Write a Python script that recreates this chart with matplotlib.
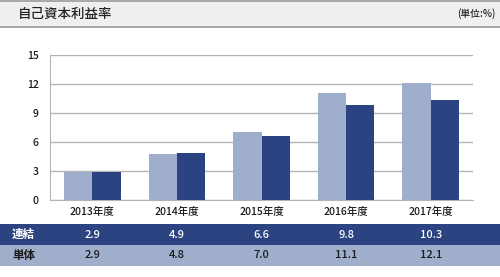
import matplotlib
matplotlib.use("Agg")
import matplotlib.pyplot as plt
from matplotlib import transforms
from matplotlib.patches import Rectangle
from matplotlib.lines import Line2D

plt.rcParams['font.family'] = ['Noto Sans CJK JP', 'DejaVu Sans']
plt.rcParams['font.weight'] = 'medium'

title = "自己資本利益率"
unit = "(単位:%)"
categories = ["2013年度", "2014年度", "2015年度", "2016年度", "2017年度"]
consolidated = [2.9, 4.9, 6.6, 9.8, 10.3]   # 連結
standalone = [2.9, 4.8, 7.0, 11.1, 12.1]    # 単体
row_labels = ["連結", "単体"]
yticks = [0, 3, 6, 9, 12, 15]

light = "#9eaecb"
dark = "#2b4380"

fig = plt.figure(figsize=(5.0, 2.77), dpi=100)
W, H = 500, 277

def fy(y):
    return 1 - y / H

# header band
fig.patches.append(Rectangle((0, fy(27)), 1, fy(1) - fy(27), transform=fig.transFigure,
                             facecolor="#efefef", edgecolor="none", zorder=-2))
fig.lines.append(Line2D([0, 1], [fy(1), fy(1)], transform=fig.transFigure, color="#9a9a9a", lw=1.2))
fig.lines.append(Line2D([0, 1], [fy(27), fy(27)], transform=fig.transFigure, color="#9a9a9a", lw=1.2))
fig.text(18 / W, fy(14), title, fontsize=9.7, va="center", ha="left", color="#222222")
fig.text(496 / W, fy(14), unit, fontsize=7, va="center", ha="right", color="#222222")

ax = fig.add_axes([50 / W, fy(200), (473 - 50) / W, fy(55) - fy(200)])
x = list(range(len(categories)))
bw = 0.335
ax.bar([i - bw / 2 for i in x], standalone, width=bw, color=light, zorder=3)
ax.bar([i + bw / 2 for i in x], consolidated, width=bw, color=dark, zorder=3)
ax.set_xlim(-0.5, len(categories) - 0.5)
ax.set_ylim(0, 15)
ax.set_yticks(yticks)
ax.set_yticklabels([str(v) for v in yticks], fontsize=7.5, color="#1a1a1a")
ax.set_xticks(x)
ax.set_xticklabels(categories, fontsize=7.5, color="#1a1a1a")
ax.tick_params(axis="both", length=0)
ax.tick_params(axis="y", pad=8)
ax.tick_params(axis="x", pad=5)
ax.grid(axis="y", color="#b4b4b4", lw=1.0, zorder=0)
for s in ["top", "right"]:
    ax.spines[s].set_visible(False)
ax.spines["left"].set_color("#b4b4b4")
ax.spines["bottom"].set_color("#b4b4b4")
ax.set_facecolor("white")

# table
fig.patches.append(Rectangle((0, fy(245)), 1, fy(224) - fy(245), transform=fig.transFigure,
                             facecolor=dark, edgecolor="none", zorder=-2))
fig.patches.append(Rectangle((0, fy(265.5)), 1, fy(245) - fy(265.5), transform=fig.transFigure,
                             facecolor=light, edgecolor="none", zorder=-2))
trans = transforms.blended_transform_factory(ax.transData, fig.transFigure)
rows = [consolidated, standalone]
ycent = [fy(234.5), fy(255.2)]
tcolors = ["white", "#1a1a1a"]
for r, (vals, yc, tc) in enumerate(zip(rows, ycent, tcolors)):
    fig.text(12 / W, yc, row_labels[r], fontsize=8.3, weight="bold", color=tc, va="center", ha="left")
    for i, v in enumerate(vals):
        ax.text(i, yc, f"{v:.1f}", transform=trans, fontsize=8, color=tc,
                va="center", ha="center", clip_on=False)

fig.savefig("out.png", dpi=100)
